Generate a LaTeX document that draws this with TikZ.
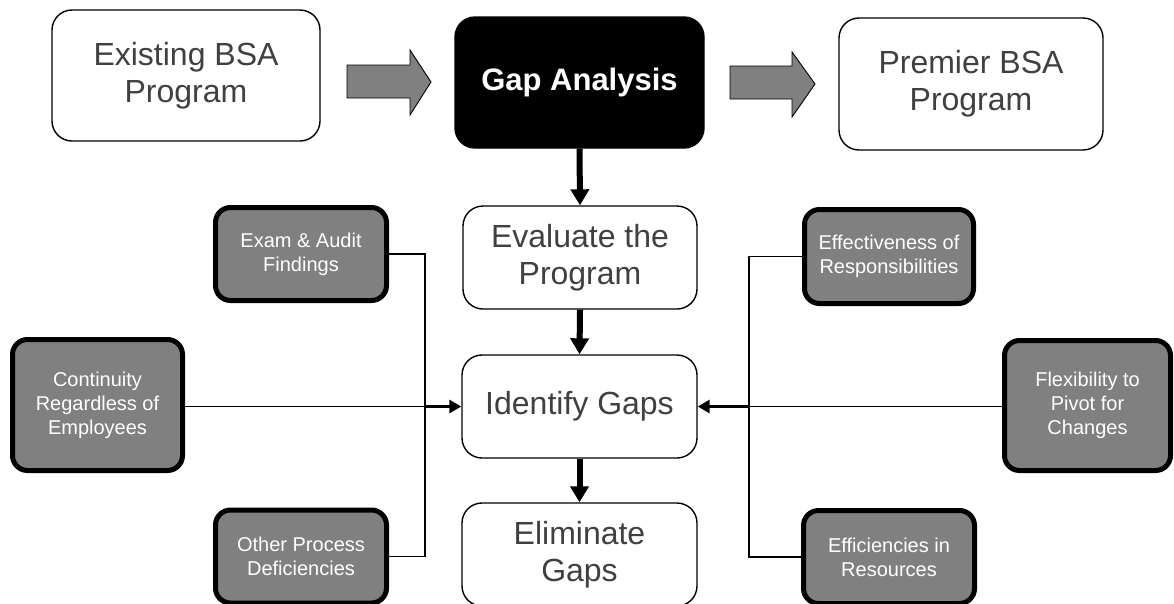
\documentclass[tikz,border=0pt]{standalone}
\usepackage{fontspec}
\setmainfont{Liberation Sans}
\usetikzlibrary{arrows.meta}
\definecolor{boxgray}{HTML}{808080}
\definecolor{txtgray}{HTML}{404040}
\begin{document}
\begin{tikzpicture}[x=1pt,y=-1pt,
  whitebox/.style={draw=black, line width=1.4pt, fill=white, rounded corners=20pt,
    text=txtgray, align=center, inner sep=0pt,
    font=\fontsize{32}{37}\selectfont},
  blackbox/.style={draw=black, line width=1.4pt, fill=black, rounded corners=20pt,
    text=white, align=center, inner sep=0pt,
    font=\fontsize{31}{36}\selectfont\bfseries},
  darkbox/.style={draw=black, line width=5pt, fill=boxgray, rounded corners=15pt,
    text=white, align=center, inner sep=0pt,
    font=\fontsize{20}{24}\selectfont},
  link/.style={draw=black, line width=1.9pt},
  feed/.style={draw=black, line width=3pt, -{Triangle[width=13pt,length=12pt]}},
  flow/.style={draw=black, line width=6pt, -{Triangle[width=18pt,length=16pt]}},
  blockarrow/.style={draw=black, line width=0.9pt, fill=boxgray}
]
\useasboundingbox (0,0) rectangle (1174,603);

% top row
\node[whitebox, minimum width=268pt, minimum height=131pt] (exist) at (186,75.5) {Existing BSA\\Program};
\node[blackbox, minimum width=249pt, minimum height=131pt] (gap) at (579.5,82.5) {Gap Analysis};
\node[whitebox, minimum width=264pt, minimum height=132pt] (premier) at (971,84) {Premier BSA\\Program};

% block arrows between the top boxes
\draw[blockarrow] (347,65) -- (410,65) -- (410,50) -- (431,82) -- (410,115) -- (410,98) -- (347,98) -- cycle;
\draw[blockarrow] (730,66) -- (792,66) -- (792,52) -- (815,84) -- (792,117) -- (792,99) -- (730,99) -- cycle;

% central column
\node[whitebox, minimum width=234pt, minimum height=103pt] (eval) at (580,257.5) {Evaluate the\\Program};
\node[whitebox, minimum width=235pt, minimum height=103pt] (ident) at (579.5,406.5) {Identify Gaps};
\node[whitebox, minimum width=235pt, minimum height=103pt] (elim) at (579.5,554.5) {Eliminate\\Gaps};

\draw[flow] (gap.south) -- (eval.north);
\draw[flow] (eval.south) -- (ident.north);
\draw[flow] (ident.south) -- (elim.north);

% left factors
\node[darkbox, minimum width=171pt, minimum height=93pt] (exam) at (301,254) {Exam \& Audit\\Findings};
\node[darkbox, minimum width=170pt, minimum height=131pt] (cont) at (97.5,405) {Continuity\\Regardless of\\Employees};
\node[darkbox, minimum width=171pt, minimum height=93pt] (other) at (301,556.5) {Other Process\\Deficiencies};

% right factors
\node[darkbox, minimum width=169pt, minimum height=94pt] (effect) at (889,256.5) {Effectiveness of\\Responsibilities};
\node[darkbox, minimum width=166pt, minimum height=130pt] (flex) at (1087.5,405.5) {Flexibility to\\Pivot for\\Changes};
\node[darkbox, minimum width=171pt, minimum height=93pt] (effic) at (889,557) {Efficiencies in\\Resources};

% collector bars
\coordinate (ljoin) at (425,406.5);
\coordinate (rjoin) at (749,406.5);

\draw[link] (exam.east) -| (ljoin);
\draw[link] (other.east) -| (ljoin);
\draw[link] (cont.east |- ident.west) -- (ljoin);
\draw[feed] (ljoin) -- (ident.west);

\draw[link] (effect.west) -| (rjoin);
\draw[link] (effic.west) -| (rjoin);
\draw[link] (flex.west |- ident.east) -- (rjoin);
\draw[feed] (rjoin) -- (ident.east);
\end{tikzpicture}
\end{document}
